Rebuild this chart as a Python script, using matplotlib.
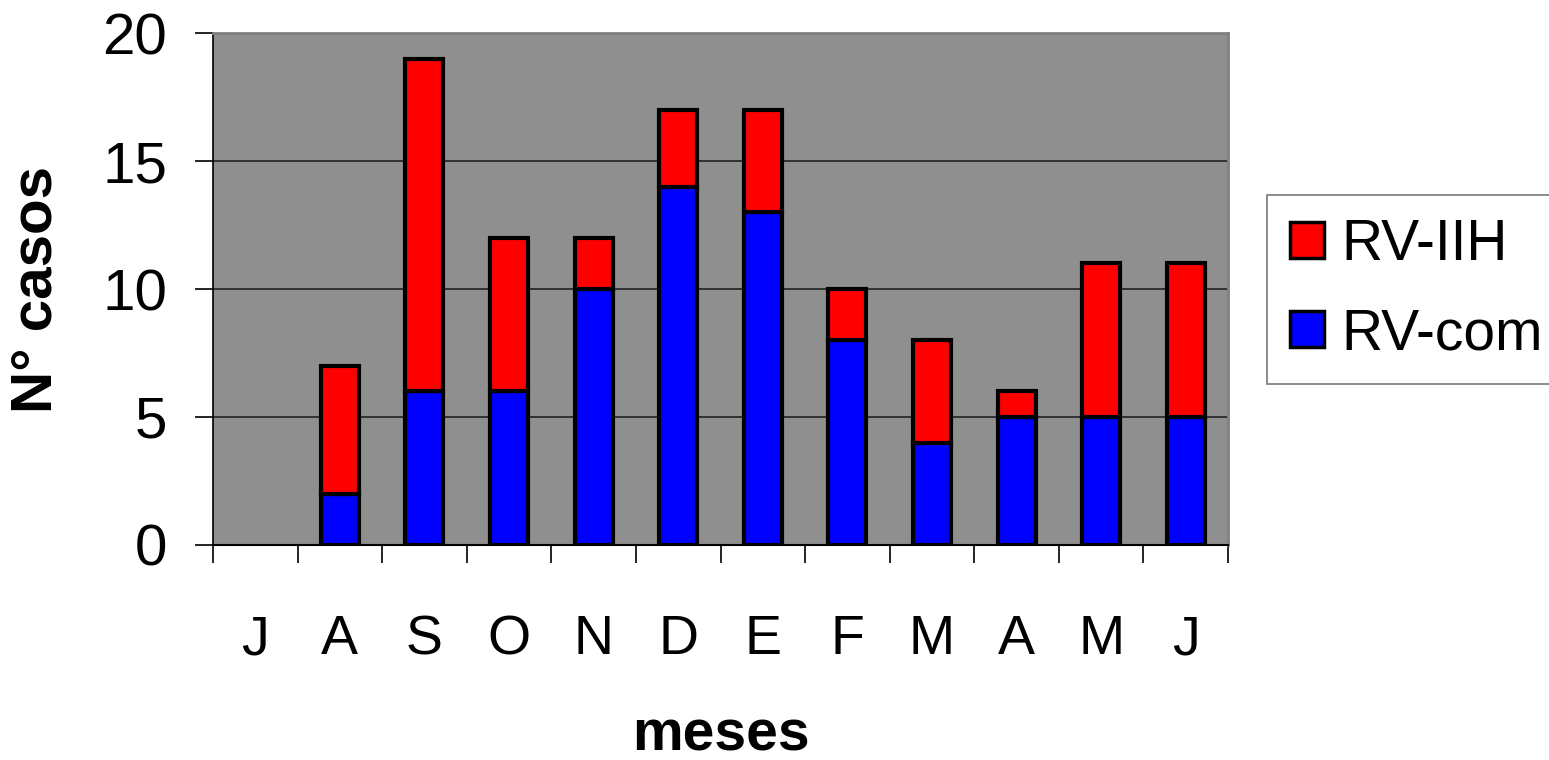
import matplotlib
matplotlib.use("Agg")
import matplotlib.pyplot as plt
import numpy as np
from matplotlib.patches import Patch

plt.rcParams['font.family'] = ['Liberation Sans', 'DejaVu Sans']

months = ["J", "A", "S", "O", "N", "D", "E", "F", "M", "A", "M", "J"]
rv_com = [0, 2, 6, 6, 10, 14, 13, 8, 4, 5, 5, 5]
rv_iih = [0, 5, 13, 6, 2, 3, 4, 2, 4, 1, 6, 6]

fig = plt.figure(figsize=(15.49, 7.6), dpi=100)
ax = fig.add_axes([213/1549, 215/760, (1228-213)/1549, (545-33)/760])
ax.set_facecolor('#8f8f8f')

x = np.arange(len(months))
w = 0.45
b1 = ax.bar(x, rv_com, w, color='#0000ff', edgecolor='black', linewidth=3, zorder=3)
b2 = ax.bar(x, rv_iih, w, bottom=rv_com, color='#ff0000', edgecolor='black', linewidth=3, zorder=3)
for bars, vals in ((b1, rv_com), (b2, rv_iih)):
    for p, v in zip(bars, vals):
        if v == 0:
            p.set_visible(False)

ax.set_xlim(-0.5, len(months) - 0.5)
ax.set_ylim(0, 20)
ax.set_yticks([0, 5, 10, 15, 20])
for yv in [5, 10, 15]:
    ax.axhline(yv, color='#222222', linewidth=1.2, zorder=1)

ax.set_xticks(x)
ax.set_xticklabels(months)
ax.set_xticks(np.arange(-0.5, len(months)), minor=True)
ax.tick_params(axis='x', which='major', length=0, pad=50, labelsize=40)
ax.tick_params(axis='x', which='minor', length=13, width=1.2, direction='out', color='black')
ax.tick_params(axis='y', which='major', length=13, width=1.2, direction='out', pad=20, labelsize=42)

for s in ['top', 'right']:
    ax.spines[s].set_color('#808080')
    ax.spines[s].set_linewidth(2)
ax.spines['left'].set_color('black')
ax.spines['left'].set_linewidth(1.2)
ax.spines['bottom'].set_color('black')
ax.spines['bottom'].set_linewidth(1.5)

ax.set_ylabel("N° casos", fontsize=42, fontweight='bold', labelpad=28)
ax.set_xlabel("meses", fontsize=41, fontweight='bold', labelpad=30)

handles = [Patch(facecolor='#ff0000', edgecolor='black', linewidth=2.5, label='RV-IIH'),
           Patch(facecolor='#0000ff', edgecolor='black', linewidth=2.5, label='RV-com')]
leg = fig.legend(handles=handles, loc='upper left', bbox_to_anchor=(1267/1549, 1 - 195/760),
                 fontsize=41, frameon=True, fancybox=False, edgecolor='#555555',
                 handlelength=0.6, handleheight=0.6, handletextpad=0.3,
                 labelspacing=0.62, borderpad=0.4, borderaxespad=0)
leg.get_frame().set_linewidth(1.2)

fig.savefig("out.png", dpi=100)
